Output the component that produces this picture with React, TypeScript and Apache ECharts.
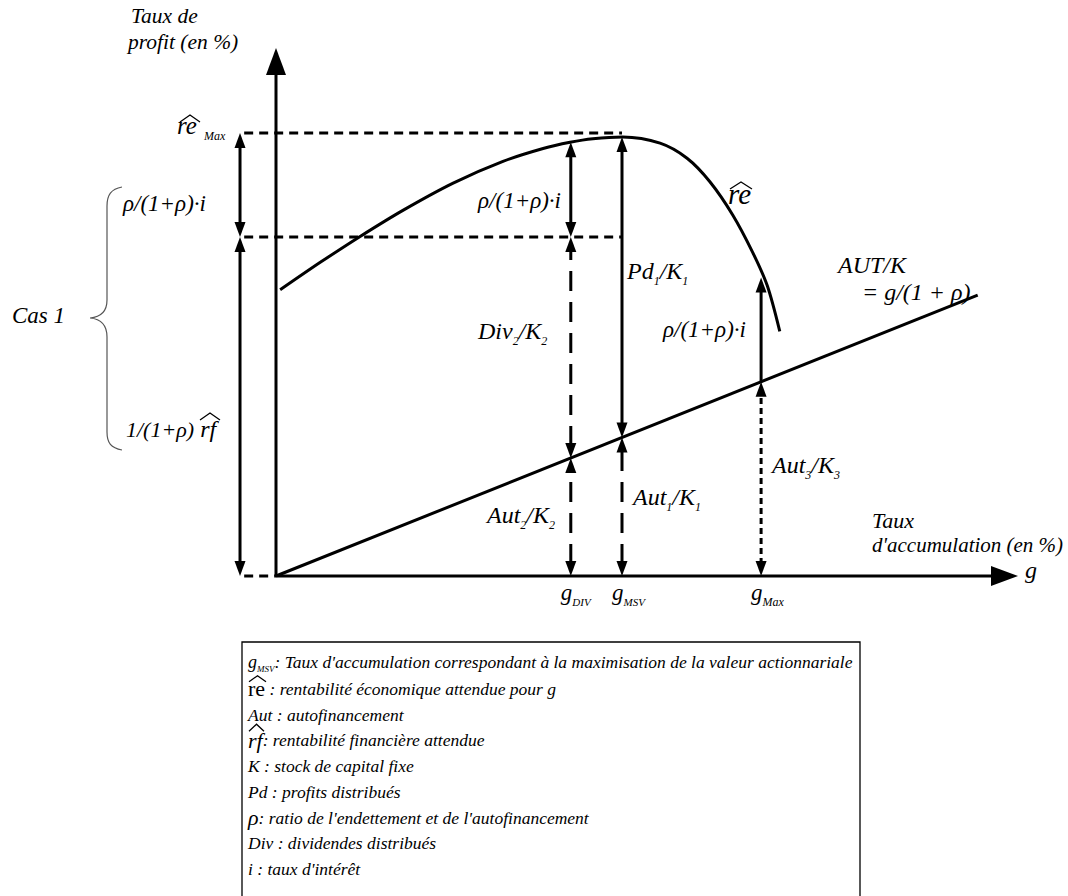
import React, { useEffect, useRef } from "react";
import * as echarts from "echarts";

const FONT = "'Liberation Serif', 'Times New Roman', Times, serif";

// ---------- data (model units: g in %, profit rate in %) ----------
const reCurve: number[][] = [
  [0.06, 6.46], [0.64, 7.08], [1.21, 7.66], [1.84, 8.26], [2.56, 8.87],
  [3.28, 9.36], [3.86, 9.65], [4.25, 9.79], [4.58, 9.87], [5.01, 9.91],
  [5.55, 9.77], [5.94, 9.43], [6.27, 8.9], [6.6, 8.15], [6.89, 7.3],
  [7.1, 6.55], [7.28, 5.52],
];
const autLine: number[][] = [[0, 0], [10.14, 6.34]];
const gTickNames = ["DIV", "MSV", "Max"];
const gTicks = [4.26, 5.0, 7.01];
const reAtTicks = [9.79, 9.91, 6.74];
const reMaxLevel = 10.0;
const reNetLevel = 7.65;
const leftArrowX = -0.52;
const guideStartX = -0.46;

const legendLines = [
  "g_MSV",
  "re",
  "Aut : autofinancement",
  "rf",
  "K : stock de capital fixe",
  "Pd : profits distribués",
  "rho",
  "Div : dividendes distribués",
  "i : taux d'intérêt",
];

// ---------- layout ----------
const X0 = 276, Y0 = 576, SX = 69.2, SY = 44.3;
const X_MIN = -1, X_MAX = (1018 - X0) / SX, Y_MIN = 0, Y_MAX = (Y0 - 48) / SY;

echarts.graphic.registerShape(
  "brace",
  echarts.graphic.extendPath(
    "M122,187 C111,189 107,195 107,206 L107,300 C107,312 101,317 90,318 C101,319 107,325 107,337 L107,432 C107,443 111,448 122,450",
    {}
  )
);

function autAt(g: number) {
  const [a, b] = autLine;
  return a[1] + ((g - a[0]) * (b[1] - a[1])) / (b[0] - a[0]);
}

function arrowRenderer(dash: number[] | null, width: number, headW: number, headL: number) {
  return (_params: any, api: any) => {
    const p1 = api.coord([api.value(0), api.value(1)]);
    const p2 = api.coord([api.value(2), api.value(3)]);
    const hs = api.value(4) > 0, he = api.value(5) > 0;
    const dx = p2[0] - p1[0], dy = p2[1] - p1[1];
    const len = Math.hypot(dx, dy) || 1;
    const ux = dx / len, uy = dy / len;
    const nx = -uy, ny = ux;
    const a = hs ? [p1[0] + ux * headL * 0.8, p1[1] + uy * headL * 0.8] : p1;
    const b = he ? [p2[0] - ux * headL * 0.8, p2[1] - uy * headL * 0.8] : p2;
    const children: any[] = [
      {
        type: "line",
        shape: { x1: a[0], y1: a[1], x2: b[0], y2: b[1] },
        style: { stroke: "#000", lineWidth: width, lineDash: dash || undefined, fill: null },
      },
    ];
    const head = (tip: number[], dirx: number, diry: number) => {
      const bx = tip[0] - dirx * headL, by = tip[1] - diry * headL;
      return {
        type: "polygon",
        shape: {
          points: [
            [tip[0], tip[1]],
            [bx + (nx * headW) / 2, by + (ny * headW) / 2],
            [bx - (nx * headW) / 2, by - (ny * headW) / 2],
          ],
        },
        style: { fill: "#000", stroke: null },
      };
    };
    if (hs) children.push(head(p1, -ux, -uy));
    if (he) children.push(head(p2, ux, uy));
    return { type: "group", children };
  };
}

const sty = (size: number, italic = true) => ({
  fontSize: size,
  fontFamily: FONT,
  fontStyle: italic ? "italic" : "normal",
  fill: "#000",
});

function subRich(main: number, sub: number, subItalic = true) {
  return {
    m: { ...sty(main), lineHeight: main + 4, verticalAlign: "top" },
    s: { ...sty(sub, subItalic), lineHeight: 10, verticalAlign: "bottom" },
  };
}

function label(x: number, y: number, text: string, size: number, extra: any = {}) {
  return {
    type: "text",
    x,
    y,
    z: 10,
    style: { text, ...sty(size), align: "left", verticalAlign: "middle", ...extra },
  };
}

function hat(x1: number, x2: number, yBase: number, h: number) {
  return {
    type: "polyline",
    z: 10,
    shape: { points: [[x1, yBase], [(x1 + x2) / 2, yBase - h], [x2, yBase]] },
    style: { stroke: "#000", lineWidth: 1.3, fill: null },
  };
}

function buildOption() {
  const [gDiv, gMsv, gMax] = gTicks;
  const [reDiv, reMsv, reGMax] = reAtTicks;

  const axes = [
    [0, 0, 0, Y_MAX, 0, 1],
    [0, 0, X_MAX, 0, 0, 1],
  ];
  const solidArrows = [
    [leftArrowX, reNetLevel, leftArrowX, reMaxLevel, 1, 1],
    [leftArrowX, 0, leftArrowX, reNetLevel, 1, 1],
    [gDiv, reNetLevel, gDiv, reDiv, 1, 1],
    [gMsv, autAt(gMsv), gMsv, reMsv, 1, 1],
    [gMax, autAt(gMax), gMax, reGMax, 0, 1],
  ];
  const dashedArrows = [
    [gDiv, autAt(gDiv), gDiv, reNetLevel, 1, 1],
    [gDiv, 0, gDiv, autAt(gDiv), 1, 1],
    [gMsv, 0, gMsv, autAt(gMsv), 1, 1],
  ];
  const dottedArrows = [[gMax, 0, gMax, autAt(gMax), 1, 1]];
  const guides = [
    [guideStartX, reMaxLevel, gMsv, reMaxLevel, 0, 0],
    [guideStartX, reNetLevel, gMsv, reNetLevel, 0, 0],
    [guideStartX, 0, 0, 0, 0, 0],
  ];

  const px = (g: number) => X0 + g * SX;
  const R = subRich(24, 12);

  const texts: any[] = [
    label(131, 16, "Taux de", 21.5),
    label(128, 42, "profit (en %)", 21.5),
    label(177, 125, "re", 25),
    hat(180, 200, 122, 7),
    label(204, 135.5, "Max", 12),
    label(123, 203, "ρ/(1+ρ)·i", 23),
    label(126, 429, "{a|1/(1+ρ)}{b| rf}", 22, {
      rich: { a: { ...sty(22), lineHeight: 26 }, b: { ...sty(24), lineHeight: 26 } },
    }),
    hat(200, 220, 420, 7),
    label(12, 315, "Cas 1", 23),
    { type: "brace", x: 0, y: 0, z: 10, style: { stroke: "#555", lineWidth: 1.2, fill: null } },
    label(561, 200, "ρ/(1+ρ)·i", 23, { align: "right" }),
    label(728, 194, "re", 29),
    hat(730, 752, 189, 7),
    label(627, 273, "{m|Pd}{s|1}{m|/K}{s|1}", 24, { rich: R }),
    label(478, 333, "{m|Div}{s|2}{m|/K}{s|2}", 24, { rich: R }),
    label(838, 265, "AUT/K", 24),
    label(862, 292, "= g/(1 + ρ)", 24),
    label(663, 329, "ρ/(1+ρ)·i", 23),
    label(772, 467, "{m|Aut}{s|3}{m|/K}{s|3}", 24, { rich: R }),
    label(633, 499, "{m|Aut}{s|1}{m|/K}{s|1}", 24, { rich: R }),
    label(487, 517, "{m|Aut}{s|2}{m|/K}{s|2}", 24, { rich: R }),
    label(872, 520, "Taux", 22),
    label(872, 545, "d'accumulation (en %)", 21),
    label(1025, 570, "g", 24),
  ];
  gTicks.forEach((g, i) => {
    texts.push(
      label(px(g) - 10, 594, `{m|g}{s|${gTickNames[i]}}`, 23, {
        rich: subRich(23, gTickNames[i] === "Max" ? 12 : 11, true),
      })
    );
  });

  // legend box
  texts.push({
    type: "rect",
    z: 10,
    shape: { x: 242, y: 642, width: 618, height: 270 },
    style: { stroke: "#000", lineWidth: 1.3, fill: "#fff" },
  });
  const LX = 248, LY0 = 663, LDY = 25.75, LF = 17.5;
  legendLines.forEach((key, i) => {
    const y = LY0 + i * LDY;
    if (key === "g_MSV") {
      texts.push(
        label(LX, y, "{g|g}{s|MSV}{t|: Taux d'accumulation correspondant à la maximisation de la valeur actionnariale}", LF, {
          rich: {
            g: { ...sty(18), lineHeight: 20, verticalAlign: "top" },
            s: { ...sty(9), lineHeight: 8, verticalAlign: "bottom" },
            t: { ...sty(LF), lineHeight: 20, verticalAlign: "top" },
          },
        })
      );
    } else if (key === "re") {
      texts.push(
        label(LX, y, "{h|re}{t| : rentabilité économique attendue pour g}", LF, {
          rich: { h: { ...sty(22, false), lineHeight: 20 }, t: { ...sty(LF), lineHeight: 20 } },
        })
      );
      texts.push(hat(LX + 1, LX + 18, y - 7, 6));
    } else if (key === "rf") {
      texts.push(
        label(LX, y, "{h|rf}{t|: rentabilité financière attendue}", LF, {
          rich: { h: { ...sty(22), lineHeight: 20 }, t: { ...sty(LF), lineHeight: 20 } },
        })
      );
      texts.push(hat(LX + 1, LX + 16, y - 9, 7));
    } else if (key === "rho") {
      texts.push(
        label(LX, y, "{h|ρ}{t|: ratio de l'endettement et de l'autofinancement}", LF, {
          rich: { h: { ...sty(22), lineHeight: 20 }, t: { ...sty(LF), lineHeight: 20 } },
        })
      );
    } else {
      texts.push(label(LX, y, key, LF));
    }
  });

  return {
    animation: false,
    grid: { left: X0 + X_MIN * SX, right: 1068 - 1018, top: 48, bottom: 896 - Y0 },
    xAxis: { type: "value", min: X_MIN, max: X_MAX, show: false },
    yAxis: { type: "value", min: Y_MIN, max: Y_MAX, show: false },
    series: [
      {
        type: "line",
        data: reCurve,
        smooth: 0.3,
        showSymbol: false,
        lineStyle: { color: "#000", width: 3 },
        z: 3,
      },
      {
        type: "line",
        data: autLine,
        showSymbol: false,
        lineStyle: { color: "#000", width: 3 },
        z: 3,
      },
      { type: "custom", data: axes, clip: false, renderItem: arrowRenderer(null, 3, 20, 27), z: 4 },
      { type: "custom", data: solidArrows, clip: false, renderItem: arrowRenderer(null, 3, 11, 15), z: 4 },
      { type: "custom", data: dashedArrows, clip: false, renderItem: arrowRenderer([20, 11], 3, 11, 15), z: 4 },
      { type: "custom", data: dottedArrows, clip: false, renderItem: arrowRenderer([6, 4], 3, 11, 15), z: 4 },
      { type: "custom", data: guides, clip: false, renderItem: arrowRenderer([9, 6], 3, 11, 15), z: 4 },
    ],
    graphic: texts,
  };
}

export default function App() {
  const ref = useRef<HTMLDivElement>(null);
  useEffect(() => {
    if (!ref.current) return;
    const chart = echarts.init(ref.current, undefined, { renderer: "svg" });
    chart.setOption(buildOption() as any);
    return () => chart.dispose();
  }, []);
  return (
    <div
      ref={ref}
      style={{ position: "absolute", left: 0, top: 0, width: 1068, height: 896, background: "#fff" }}
    />
  );
}
